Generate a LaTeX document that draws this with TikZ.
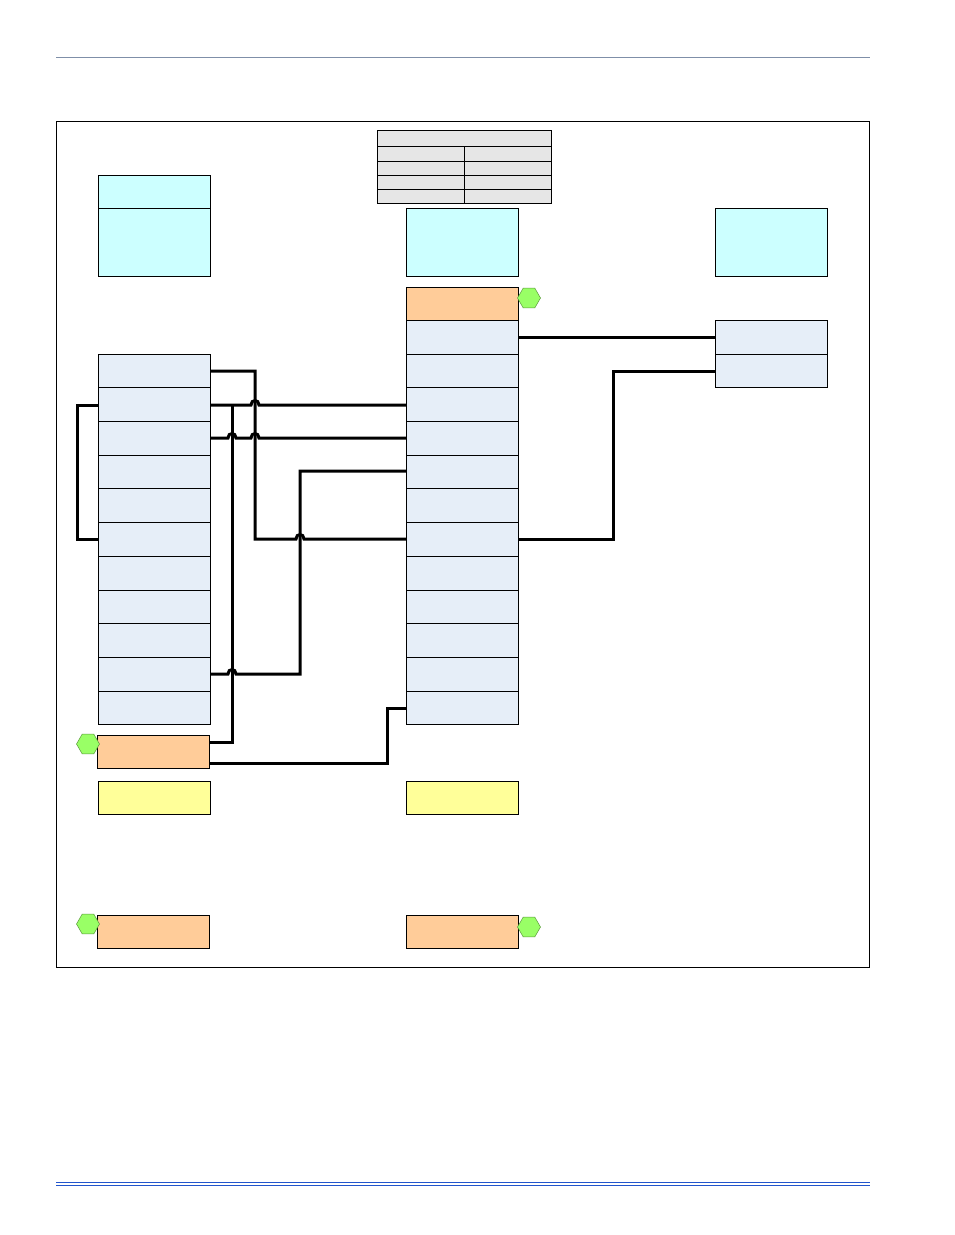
\documentclass[tikz,border=0pt]{standalone}
\usetikzlibrary{shapes.geometric}
\definecolor{cyanb}{HTML}{CCFFFF}
\definecolor{blueb}{HTML}{E6EEF8}
\definecolor{orb}{HTML}{FFCC99}
\definecolor{yelb}{HTML}{FFFF99}
\definecolor{grnb}{HTML}{99FF66}
\definecolor{tabg}{HTML}{E6E6E6}
\definecolor{rulec}{HTML}{7F8FA8}
\definecolor{blueline}{HTML}{2255CC}
\begin{document}
\begin{tikzpicture}[x=1pt,y=-1pt,
  bx/.style={draw=black,line width=0.8pt,inner sep=0pt,outer sep=0pt,anchor=north west,minimum width=112pt},
  cy/.style={bx,fill=cyanb},
  bl/.style={bx,fill=blueb,minimum height=33.7pt},
  orr/.style={bx,fill=orb,minimum height=33.7pt},
  ye/.style={bx,fill=yelb,minimum height=33.7pt},
  hexa/.style={regular polygon,regular polygon sides=6,minimum size=23pt,inner sep=0pt,fill=grnb,draw=grnb!60!black,line width=0.5pt},
  wire/.style={line width=3pt,line join=miter}]
\useasboundingbox (0,0) rectangle (954,1235);
\fill[white] (0,0) rectangle (954,1235);
% header and footer rules
\draw[rulec,line width=0.8pt] (56,57) -- (870,57);
\draw[blueline,line width=1pt] (56,1182) -- (870,1182);
\draw[blueline,line width=1pt] (56,1185.5) -- (870,1185.5);
% frame
\node[draw=black,line width=0.8pt,inner sep=0pt,anchor=north west,minimum width=813pt,minimum height=846pt] (frame) at (56,121) {};
% table
\node[draw=black,fill=tabg,line width=0.8pt,inner sep=0pt,anchor=north west,minimum width=174pt,minimum height=73pt] (tab) at (377,130) {};
\draw[line width=0.8pt] (377,146) -- (551,146) (377,161) -- (551,161) (377,175) -- (551,175) (377,189) -- (551,189) (464,146) -- (464,203);
% cyan boxes
\node[cy,minimum height=101pt] (cL) at (98,175) {};
\draw[line width=0.8pt] (98,208) -- (210,208);
\node[cy,minimum height=68pt] (cM) at (406,208) {};
\node[cy,minimum height=68pt] (cR) at (715,208) {};
% left stack
\foreach \i in {1,...,11} {\node[bl] (L\i) at (98,{354+(\i-1)*33.7}) {};}
\node[orr] (oL) at (97,735) {};
\node[hexa] (hL) at (88,744) {};
\node[ye] (yL) at (98,781) {};
\node[orr] (obL) at (97,915) {};
\node[hexa] (hbL) at (88,924) {};
% middle stack
\node[orr] (oM) at (406,287) {};
\node[hexa] (hM) at (529,298) {};
\foreach \i in {1,...,12} {\node[bl] (M\i) at (406,{320.3+(\i-1)*33.7}) {};}
\node[ye] (yM) at (406,781) {};
\node[orr] (obM) at (406,915) {};
\node[hexa] (hbM) at (529,927) {};
% right stack
\node[bl] (R1) at (715,320.3) {};
\node[bl] (R2) at (715,354) {};
% wires
\draw[wire] (L1.east |- 0,371) -- (255,371) -- (255,539) -- (296,539) .. controls (296,533) and (304,533) .. (304,539) -- (M7.west |- 0,539);
\draw[wire] (L2.east |- 0,405) -- (251,405) .. controls (251,399) and (259,399) .. (259,405) -- (M3.west |- 0,405);
\draw[wire] (L3.east |- 0,438) -- (228,438) .. controls (228,432) and (236,432) .. (236,438) -- (251,438) .. controls (251,432) and (259,432) .. (259,438) -- (M4.west |- 0,438);
\draw[wire] (232,405) -- (232,742) -- (oL.east |- 0,742);
\draw[wire] (L10.east |- 0,674) -- (228,674) .. controls (228,668) and (236,668) .. (236,674) -- (300,674) -- (300,471) -- (M5.west |- 0,471);
\draw[wire] (L2.west |- 0,405) -- (77,405) -- (77,539) -- (L6.west |- 0,539);
\draw[wire] (oL.east |- 0,763) -- (387,763) -- (387,708) -- (M12.west |- 0,708);
\draw[wire] (M1.east |- 0,337) -- (R1.west |- 0,337);
\draw[wire] (M7.east |- 0,539) -- (613,539) -- (613,371) -- (R2.west |- 0,371);
\end{tikzpicture}
\end{document}
